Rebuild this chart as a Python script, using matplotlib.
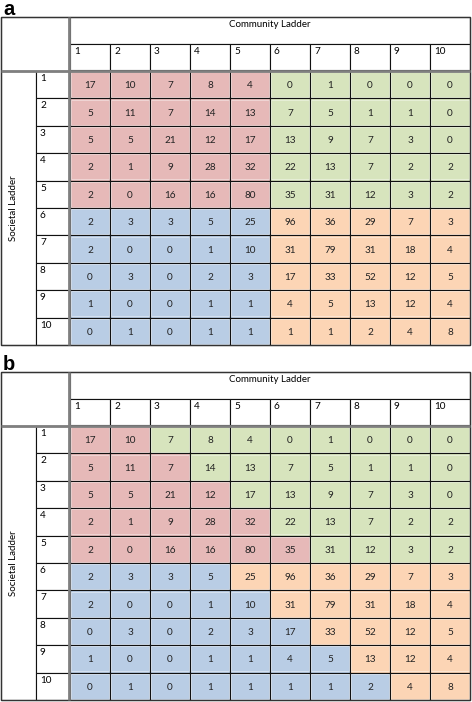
import numpy as np
import matplotlib
matplotlib.use("Agg")
import matplotlib.pyplot as plt
from matplotlib.patches import Rectangle

# counts: rows = societal ladder 1..10, cols = community ladder 1..10
counts = [
    [17, 10, 7, 8, 4, 0, 1, 0, 0, 0],
    [5, 11, 7, 14, 13, 7, 5, 1, 1, 0],
    [5, 5, 21, 12, 17, 13, 9, 7, 3, 0],
    [2, 1, 9, 28, 32, 22, 13, 7, 2, 2],
    [2, 0, 16, 16, 80, 35, 31, 12, 3, 2],
    [2, 3, 3, 5, 25, 96, 36, 29, 7, 3],
    [2, 0, 0, 1, 10, 31, 79, 31, 18, 4],
    [0, 3, 0, 2, 3, 17, 33, 52, 12, 5],
    [1, 0, 0, 1, 1, 4, 5, 13, 12, 4],
    [0, 1, 0, 1, 1, 1, 1, 2, 4, 8],
]
ladder = [str(i) for i in range(1, 11)]

# colour groups per cell (P=pink, G=green, B=blue, O=orange)
groups_a = ["PPPPPGGGGG"] * 5 + ["BBBBBOOOOO"] * 5
groups_b = [
    "PPGGGGGGGG",
    "PPPGGGGGGG",
    "PPPPGGGGGG",
    "PPPPPGGGGG",
    "PPPPPPGGGG",
    "BBBBOOOOOO",
    "BBBBBOOOOO",
    "BBBBBBOOOO",
    "BBBBBBBOOO",
    "BBBBBBBBOO",
]
colors = {"P": "#e6b9b8", "G": "#d7e4bd", "B": "#b9cde5", "O": "#fcd5b5"}

W, H = 472, 702
fig = plt.figure(figsize=(W / 100, H / 100), dpi=100)
ax = fig.add_axes([0, 0, 1, 1])
ax.set_xlim(0, W)
ax.set_ylim(H, 0)
ax.axis("off")

font = ["Lato", "DejaVu Sans"]
fs = 7.2

x_left, x_mid, x_data = 1, 36, 70
col_w = 40
head1, head2 = 27, 26
row_h = 27.4


def cell(x, y, w, h, fc="white"):
    ax.add_patch(Rectangle((x, y), w, h, facecolor=fc, edgecolor="#111111", lw=0.8))


def draw_table(top, groups, letter):
    ax.text(3, top - 2, letter, fontsize=14.5, fontweight="bold",
            family=["Liberation Sans", "DejaVu Sans"], va="baseline", ha="left")
    y_num = top + head1
    y_rows = y_num + head2 + 1
    x_right = x_data + 10 * col_w
    y_bot = y_rows + 10 * row_h

    # header blocks
    cell(x_left, top, x_data - x_left, y_rows - top)
    cell(x_data, top, x_right - x_data, head1)
    ax.text((x_data + x_right) / 2, top + 3, "Community Ladder", fontsize=7,
            family=font, ha="center", va="top")
    for j, lab in enumerate(ladder):
        cx = x_data + j * col_w
        cell(cx, y_num, col_w, head2)
        ax.text(cx + 4, y_num + 3, lab, fontsize=fs, family=font, ha="left", va="top")

    # row labels
    cell(x_left, y_rows, x_mid - x_left, y_bot - y_rows)
    ax.text(14, (y_rows + y_bot) / 2, "Societal Ladder", fontsize=7, family=font,
            rotation=90, ha="center", va="center")
    for i, lab in enumerate(ladder):
        ry = y_rows + i * row_h
        cell(x_mid, ry, x_data - x_mid, row_h)
        ax.text(x_mid + 4, ry + 3, lab, fontsize=fs, family=font, ha="left", va="top")

    # data cells
    for i in range(10):
        for j in range(10):
            cx = x_data + j * col_w
            ry = y_rows + i * row_h
            cell(cx, ry, col_w, row_h, colors[groups[i][j]])
            ax.add_patch(Rectangle((cx + 1.2, ry + 1.2), col_w - 2.4, row_h - 2.4,
                                   facecolor="none", edgecolor="white", lw=0.4, alpha=0.7))
            ax.text(cx + col_w / 2, ry + row_h / 2 + 1, str(counts[i][j]), fontsize=fs,
                    family=font, ha="center", va="center", color="#222222")

    # double separators
    ax.plot([x_data - 1, x_data - 1], [top, y_bot], color="#7f7f7f", lw=2.0,
            solid_capstyle="butt")
    ax.plot([x_left, x_right], [y_rows - 0.5, y_rows - 0.5], color="#7f7f7f", lw=2.0,
            solid_capstyle="butt")
    # outer border
    ax.add_patch(Rectangle((x_left, top), x_right - x_left, y_bot - top,
                           facecolor="none", edgecolor="#333333", lw=1.0))


draw_table(17, groups_a, "a")
draw_table(372, groups_b, "b")

fig.savefig("out.png", dpi=100)
